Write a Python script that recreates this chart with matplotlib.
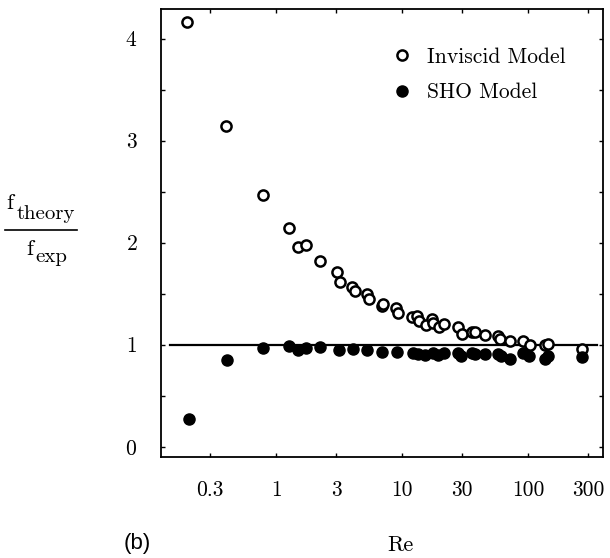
import numpy as np
import matplotlib
matplotlib.use("Agg")
import matplotlib.pyplot as plt
from matplotlib.lines import Line2D
from matplotlib.ticker import FixedLocator, FixedFormatter, NullLocator

# Reynolds numbers and frequency ratios
re_inviscid = [0.197, 0.40, 0.78, 1.26, 1.50, 1.73, 2.21, 3.03, 3.22, 3.99, 4.24,
               5.25, 5.47, 6.9, 7.1, 8.96, 9.24, 11.9, 13.2, 13.7, 15.5, 17.2,
               17.7, 19.8, 21.5, 28, 29.8, 35.7, 37.9, 45.6, 58, 60, 72, 92,
               104, 136, 144, 267]
f_inviscid = [4.16, 3.14, 2.47, 2.14, 1.96, 1.98, 1.82, 1.71, 1.61, 1.57, 1.53,
              1.50, 1.45, 1.38, 1.40, 1.36, 1.31, 1.27, 1.28, 1.23, 1.19, 1.255,
              1.21, 1.17, 1.20, 1.17, 1.11, 1.12, 1.12, 1.10, 1.085, 1.06, 1.035,
              1.04, 1.0, 1.0, 1.01, 0.96]

re_sho = [0.204, 0.406, 0.79, 1.27, 1.50, 1.72, 2.25, 3.18, 4.1, 5.3, 6.9, 9.07,
          12.3, 13.5, 15.2, 17.7, 19.4, 21.5, 28, 29.2, 35.7, 37.9, 45.6, 58,
          60.6, 72, 92, 102, 136, 144, 267]
f_sho = [0.27, 0.855, 0.97, 0.99, 0.95, 0.97, 0.976, 0.944, 0.954, 0.944, 0.931,
         0.931, 0.92, 0.905, 0.898, 0.92, 0.898, 0.915, 0.915, 0.888, 0.92, 0.905,
         0.905, 0.905, 0.888, 0.862, 0.92, 0.888, 0.862, 0.888, 0.875]

x_ticks = [0.3, 1, 3, 10, 30, 100, 300]
x_labels = ["0.3", "1", "3", "10", "30", "100", "300"]
y_ticks = [0, 1, 2, 3, 4]

plt.rcParams['font.family'] = 'serif'
plt.rcParams['font.serif'] = ['cmr10', 'DejaVu Serif']
plt.rcParams['mathtext.fontset'] = 'cm'
plt.rcParams['axes.formatter.use_mathtext'] = True

W, H = 610, 558
fig = plt.figure(figsize=(6.1, 5.58), dpi=100)
ax = fig.add_axes([0.264, 0.181, 0.7246, 0.803])

ax.plot(re_inviscid, f_inviscid, 'o', mfc='white', mec='black', mew=1.8,
        ms=7.3, label='Inviscid Model', zorder=3)
ax.plot(re_sho, f_sho, 'o', color='black', ms=8, label='SHO Model', zorder=3)
ax.plot([0.144, 353], [1, 1], color='black', lw=1.6, zorder=2)

ax.set_xscale('log')
ax.set_xlim(0.122, 394)
ax.set_ylim(-0.1, 4.29)

ax.xaxis.set_major_locator(FixedLocator(x_ticks))
ax.xaxis.set_major_formatter(FixedFormatter(x_labels))
ax.xaxis.set_minor_locator(NullLocator())
ax.yaxis.set_major_locator(FixedLocator(y_ticks))
ax.yaxis.set_minor_locator(FixedLocator([0.5, 1.5, 2.5, 3.5]))
ax.tick_params(which='both', direction='in', top=True, right=True,
               length=3, width=1, labelsize=15.5)
ax.tick_params(axis='x', pad=17)
ax.tick_params(axis='y', pad=17)
for s in ax.spines.values():
    s.set_linewidth(1.3)

leg = ax.legend(loc='upper left', bbox_to_anchor=(396 / W, 1 - 47 / H),
                bbox_transform=fig.transFigure, frameon=False, borderpad=0,
                borderaxespad=0, fontsize=15.5, handlelength=0.6,
                handletextpad=0.85, labelspacing=0.75, numpoints=1)

# y label built by hand: the subscripts are nearly full size in the original
fig.text(6.5 / W, 1 - 209 / H, 'f', fontsize=16.5, ha='left', va='baseline')
fig.text(16.5 / W, 1 - 219 / H, 'theory', fontsize=15, ha='left', va='baseline')
fig.add_artist(Line2D([5 / W, 77 / W], [1 - 230 / H, 1 - 230 / H],
                      color='black', lw=1.2, transform=fig.transFigure))
fig.text(26 / W, 1 - 255 / H, 'f', fontsize=16.5, ha='left', va='baseline')
fig.text(35 / W, 1 - 262.5 / H, 'exp', fontsize=15, ha='left', va='baseline')

fig.text(400 / W, 1 - 551 / H, 'Re', fontsize=16, ha='center', va='baseline')
fig.text(137 / W, 1 - 544 / H, '(b)', fontsize=16, ha='center', va='center',
         family=['Liberation Sans', 'DejaVu Sans'])

fig.savefig('out.png', dpi=100)
